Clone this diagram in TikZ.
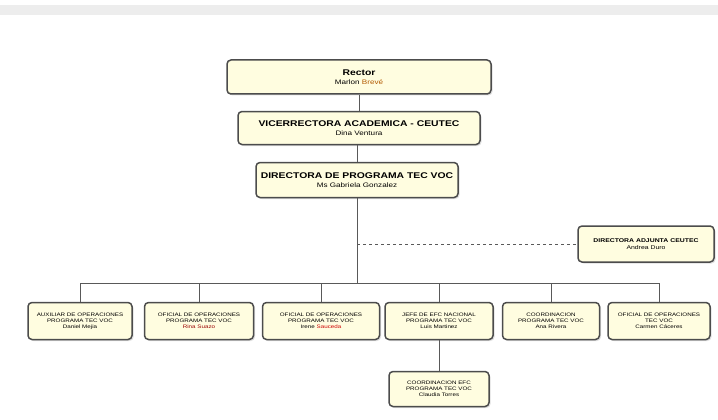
\documentclass[tikz,border=0pt]{standalone}
\usepackage{fontspec}
\setmainfont{Liberation Sans}
\newfontfamily\widefont[FakeStretch=1.25]{Liberation Sans}
\usetikzlibrary{shadows}
\newcommand{\subname}{\fontsize{6.5}{7}\selectfont\mdseries}

\begin{document}
\begin{tikzpicture}[x=1pt, y=-1pt,
  box/.style={draw=black!70, line width=1.5pt, rounded corners=4pt, fill=yellow!12,
    drop shadow={opacity=0.25, shadow xshift=1.5pt, shadow yshift=-1.5pt},
    align=center, inner sep=2pt},
  topbox/.style={box, font=\widefont\fontsize{8.3}{9.5}\selectfont\bfseries},
  lowbox/.style={box, font=\widefont\fontsize{5}{5.8}\selectfont, minimum height=37pt},
  link/.style={draw=black!65, line width=0.8pt}]
\useasboundingbox (0,0) rectangle (718,420);
\fill[black!7] (0,5) rectangle (718,15);
% upper levels
\node[topbox, minimum width=264pt, minimum height=34pt] (rector) at (359,77)
  {Rector\\[-1pt]{\subname Marlon \textcolor{orange!70!black}{Brevé}}};
\node[topbox, minimum width=242pt, minimum height=33pt] (vice) at (359,128)
  {VICERRECTORA ACADEMICA - CEUTEC\\[-1pt]{\subname Dina Ventura}};
\node[topbox, minimum width=202pt, minimum height=35pt] (dir) at (357,180)
  {DIRECTORA DE PROGRAMA TEC VOC\\[-1pt]{\subname Ms Gabriela Gonzalez}};
\node[box, font=\widefont\fontsize{5.5}{6.5}\selectfont\bfseries, minimum width=136pt, minimum height=36pt] (adj) at (646,244)
  {DIRECTORA ADJUNTA CEUTEC\\{\mdseries Andrea Duro}};
% lower level
\coordinate (bus) at (357,283);
\node[lowbox, minimum width=104pt] (b1) at (80,321)
  {AUXILIAR DE OPERACIONES\\PROGRAMA TEC VOC\\Daniel Mejia};
\node[lowbox, minimum width=109pt] (b2) at (199,321)
  {OFICIAL DE OPERACIONES\\PROGRAMA TEC VOC\\\textcolor{red!60!black}{Rina Suazo}};
\node[lowbox, minimum width=117pt] (b3) at (321,321)
  {OFICIAL DE OPERACIONES\\PROGRAMA TEC VOC\\Irene \textcolor{red!80!black}{Sauceda}};
\node[lowbox, minimum width=108pt] (b4) at (439,321)
  {JEFE DE EFC NACIONAL\\PROGRAMA TEC VOC\\Luis Martinez};
\node[lowbox, minimum width=97pt] (b5) at (551,321)
  {COORDINACION\\PROGRAMA TEC VOC\\Ana Rivera};
\node[lowbox, minimum width=102pt] (b6) at (659,321)
  {OFICIAL DE OPERACIONES\\TEC VOC\\Carmen Cáceres};
\node[lowbox, minimum width=100pt, minimum height=35pt] (b7) at (439,389)
  {COORDINACION EFC\\PROGRAMA TEC VOC\\Claudia Torres};
% lines
\draw[link] (rector) -- (vice);
\draw[link] (vice.south -| dir.north) -- (dir);
\draw[link] (dir) -- (bus);
\draw[link, dashed] (dir.south |- adj.west) -- (adj.west);
\foreach \b in {b1,b2,b3,b4,b5,b6}
  \draw[link] (bus) -| (\b.north);
\draw[link] (b4) -- (b7);
\end{tikzpicture}
\end{document}
